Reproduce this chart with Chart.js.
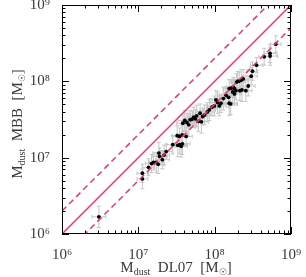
<!DOCTYPE html>
<html lang="en">
<head>
  <meta charset="UTF-8" />
  <title>Dust mass: MBB vs DL07</title>
  <script src="https://cdn.jsdelivr.net/npm/chart.js"></script>
  <style>
    html, body { margin: 0; padding: 0; background: #fff; }
    #wrap { width: 306px; height: 277px; }
  </style>
</head>
<body>
  <div id="wrap"><canvas id="dustChart" width="306" height="277"></canvas></div>

  <script>
    // dust masses [Msun]
    const massDL07 = [
      3.04e6, 1.13e7, 1.13e7, 1.36e7, 1.49e7, 1.58e7, 1.72e7, 1.82e7, 1.86e7, 1.90e7,
      2.06e7, 2.18e7, 2.32e7, 2.83e7, 3.23e7, 3.29e7, 3.49e7, 3.64e7, 3.46e7, 3.75e7,
      4.23e7, 3.78e7, 3.83e7, 4.06e7, 4.32e7, 4.58e7, 4.76e7, 5.06e7, 5.32e7, 5.60e7,
      5.82e7, 6.12e7, 6.44e7, 6.70e7, 6.97e7, 7.41e7, 8.02e7, 8.51e7, 9.23e7, 9.91e7,
      1.04e8, 1.09e8, 1.15e8, 1.21e8, 1.30e8, 1.41e8, 1.52e8, 1.55e8, 1.62e8, 1.55e8,
      1.65e8, 1.75e8, 1.82e8, 1.72e8, 1.82e8, 1.90e8, 1.94e8, 2.01e8, 2.10e8, 2.23e8,
      2.14e8, 2.28e8, 2.37e8, 2.56e8, 2.75e8, 3.01e8, 3.13e8, 3.53e8, 4.45e8, 5.32e8,
      5.32e8, 6.31e8
    ];
    const massMBB = [
      1.68e6, 6.25e6, 5.27e6, 7.48e6, 8.36e6, 8.69e6, 8.69e6, 8.18e6, 1.15e7, 1.04e7,
      9.42e6, 1.08e7, 1.20e7, 1.48e7, 1.94e7, 1.45e7, 1.48e7, 1.41e7, 1.90e7, 1.98e7,
      1.90e7, 1.52e7, 2.83e7, 3.07e7, 2.89e7, 2.69e7, 3.13e7, 3.19e7, 3.39e7, 3.23e7,
      3.53e7, 2.98e7, 3.83e7, 2.95e7, 3.46e7, 3.64e7, 3.98e7, 4.23e7, 4.58e7, 4.76e7,
      5.71e7, 5.27e7, 4.76e7, 5.16e7, 5.94e7, 6.56e7, 6.18e7, 5.16e7, 5.06e7, 8.02e7,
      8.18e7, 8.36e7, 8.02e7, 7.26e7, 6.84e7, 7.55e7, 9.79e7, 1.00e8, 1.01e8, 1.04e8,
      7.55e7, 7.71e7, 1.08e8, 7.55e7, 8.69e7, 1.17e8, 1.36e8, 1.63e8, 2.10e8, 2.32e8,
      2.14e8, 3.07e8
    ];
    // symmetric errors in dex
    const errDL07 = [
      0.09, 0.07, 0.07, 0.08, 0.08, 0.07, 0.09, 0.08, 0.08, 0.10,
      0.09, 0.07, 0.08, 0.08, 0.07, 0.09, 0.10, 0.08, 0.09, 0.07,
      0.08, 0.10, 0.08, 0.09, 0.07, 0.10, 0.08, 0.09, 0.08, 0.07,
      0.09, 0.08, 0.10, 0.09, 0.07, 0.08, 0.09, 0.08, 0.07, 0.09,
      0.08, 0.10, 0.09, 0.08, 0.07, 0.09, 0.08, 0.10, 0.09, 0.08,
      0.07, 0.09, 0.08, 0.10, 0.09, 0.08, 0.07, 0.09, 0.08, 0.09,
      0.10, 0.08, 0.09, 0.08, 0.09, 0.08, 0.07, 0.08, 0.07, 0.08,
      0.10, 0.07
    ];
    const errMBB = [
      0.14, 0.12, 0.13, 0.11, 0.12, 0.10, 0.13, 0.12, 0.14, 0.11,
      0.12, 0.13, 0.10, 0.12, 0.13, 0.15, 0.12, 0.14, 0.11, 0.13,
      0.12, 0.14, 0.11, 0.13, 0.12, 0.15, 0.12, 0.11, 0.13, 0.12,
      0.14, 0.13, 0.12, 0.15, 0.11, 0.13, 0.12, 0.14, 0.11, 0.13,
      0.12, 0.14, 0.13, 0.12, 0.15, 0.11, 0.13, 0.16, 0.14, 0.12,
      0.11, 0.13, 0.12, 0.14, 0.15, 0.12, 0.11, 0.13, 0.12, 0.14,
      0.13, 0.15, 0.12, 0.14, 0.13, 0.11, 0.12, 0.10, 0.11, 0.12,
      0.12, 0.11
    ];

    // reference lines: 1:1 and factor of two either side
    const lineX = [1e6, 1e9];
    const oneToOne = [1e6, 1e9];
    const twiceLine = [2e6, 2e9];
    const halfLine = [5e5, 5e8];

    const decades = [1e6, 1e7, 1e8, 1e9];
    const decadeLabels = ['10\u2076', '10\u2077', '10\u2078', '10\u2079'];

    const pink = '#e8357d';
    const textGrey = '#3a3a3a';
    const serif = '"Liberation Serif", "DejaVu Serif", serif';

    function logTicks(scale) {
      const out = [];
      for (let e = 6; e < 9; e++) {
        for (let m = 1; m < 10; m++) out.push({ value: m * Math.pow(10, e) });
      }
      out.push({ value: 1e9 });
      scale.ticks = out;
    }

    function tickLabel(value) {
      const i = decades.findIndex(d => Math.abs(d - value) / d < 1e-6);
      return i >= 0 ? decadeLabels[i] : '';
    }

    // error bars under the points
    const errorBars = {
      id: 'errorBars',
      beforeDatasetsDraw(chart) {
        const c = chart.ctx, a = chart.chartArea;
        const xs = chart.scales.x, ys = chart.scales.y;
        c.save();
        c.beginPath();
        c.rect(a.left, a.top, a.right - a.left, a.bottom - a.top);
        c.clip();
        c.strokeStyle = '#c6c6c6';
        c.lineWidth = 1;
        const cap = 2;
        massDL07.forEach((mx, i) => {
          const my = massMBB[i];
          const fx = Math.pow(10, errDL07[i]), fy = Math.pow(10, errMBB[i]);
          const px = xs.getPixelForValue(mx), py = ys.getPixelForValue(my);
          const x0 = xs.getPixelForValue(mx / fx), x1 = xs.getPixelForValue(mx * fx);
          const y0 = ys.getPixelForValue(my / fy), y1 = ys.getPixelForValue(my * fy);
          c.beginPath();
          c.moveTo(x0, py); c.lineTo(x1, py);
          c.moveTo(x0, py - cap); c.lineTo(x0, py + cap);
          c.moveTo(x1, py - cap); c.lineTo(x1, py + cap);
          c.moveTo(px, y0); c.lineTo(px, y1);
          c.moveTo(px - cap, y0); c.lineTo(px + cap, y0);
          c.moveTo(px - cap, y1); c.lineTo(px + cap, y1);
          c.stroke();
        });
        c.restore();
      }
    };

    // box with inward ticks on all four sides
    const frame = {
      id: 'frame',
      afterDraw(chart) {
        const c = chart.ctx, a = chart.chartArea;
        const xs = chart.scales.x, ys = chart.scales.y;
        c.save();
        c.strokeStyle = '#000';
        c.lineWidth = 1;
        c.strokeRect(a.left + 0.5, a.top + 0.5, a.right - a.left - 1, a.bottom - a.top - 1);
        c.beginPath();
        xs.ticks.forEach(t => {
          const p = Math.round(xs.getPixelForValue(t.value)) + 0.5;
          const len = tickLabel(t.value) ? 7 : 3.5;
          c.moveTo(p, a.bottom); c.lineTo(p, a.bottom - len);
          c.moveTo(p, a.top); c.lineTo(p, a.top + len);
        });
        ys.ticks.forEach(t => {
          const p = Math.round(ys.getPixelForValue(t.value)) + 0.5;
          const len = tickLabel(t.value) ? 7 : 3.5;
          c.moveTo(a.left, p); c.lineTo(a.left + len, p);
          c.moveTo(a.right, p); c.lineTo(a.right - len, p);
        });
        c.stroke();
        c.restore();
      }
    };

    // axis titles with subscripts
    function drawParts(c, parts, cx, cy) {
      let w = 0;
      parts.forEach(p => { c.font = p.size + 'px ' + serif; p.w = c.measureText(p.t).width; w += p.w; });
      let x = cx - w / 2;
      parts.forEach(p => {
        c.font = p.size + 'px ' + serif;
        c.fillText(p.t, x, cy + (p.dy || 0));
        x += p.w;
      });
    }

    const axisTitles = {
      id: 'axisTitles',
      afterDraw(chart) {
        const c = chart.ctx;
        c.save();
        c.fillStyle = textGrey;
        c.textBaseline = 'alphabetic';
        drawParts(c, [
          { t: 'M', size: 15 }, { t: 'dust', size: 10, dy: 3 },
          { t: '  DL07  [M', size: 15 }, { t: '\u2609', size: 9, dy: 3 }, { t: ']', size: 15 }
        ], 176, 272);
        c.translate(22, 124);
        c.rotate(-Math.PI / 2);
        drawParts(c, [
          { t: 'M', size: 15 }, { t: 'dust', size: 10, dy: 3 },
          { t: '  MBB  [M', size: 15 }, { t: '\u2609', size: 9, dy: 3 }, { t: ']', size: 15 }
        ], 0, 0);
        c.restore();
      }
    };

    const points = massDL07.map((x, i) => ({ x: x, y: massMBB[i] }));
    const refLine = ys => lineX.map((x, i) => ({ x: x, y: ys[i] }));

    const axisCommon = {
      type: 'logarithmic',
      min: 1e6,
      max: 1e9,
      grid: { display: false },
      border: { display: false },
      afterBuildTicks: logTicks,
      ticks: {
        autoSkip: false,
        maxRotation: 0,
        color: textGrey,
        font: { family: serif, size: 15 },
        callback: tickLabel
      }
    };

    new Chart(document.getElementById('dustChart'), {
      type: 'scatter',
      data: {
        datasets: [
          { type: 'line', data: refLine(oneToOne), borderColor: pink, borderWidth: 1.5, pointRadius: 0 },
          { type: 'line', data: refLine(twiceLine), borderColor: pink, borderWidth: 1.5, borderDash: [6, 4], pointRadius: 0 },
          { type: 'line', data: refLine(halfLine), borderColor: pink, borderWidth: 1.5, borderDash: [6, 4], pointRadius: 0 },
          { data: points, backgroundColor: '#000', borderWidth: 0, pointRadius: 1.9 }
        ]
      },
      options: {
        responsive: false,
        animation: false,
        layout: { padding: { left: 0, right: 15, top: 5, bottom: 0 } },
        plugins: { legend: { display: false }, tooltip: { enabled: false } },
        scales: {
          x: Object.assign({}, axisCommon, {
            ticks: Object.assign({}, axisCommon.ticks, { padding: 4 }),
            afterFit(s) { s.height = 43; s.paddingLeft = 0; s.paddingRight = 0; }
          }),
          y: Object.assign({}, axisCommon, {
            ticks: Object.assign({}, axisCommon.ticks, { padding: 4 }),
            afterFit(s) { s.width = 62; s.paddingTop = 0; s.paddingBottom = 0; }
          })
        }
      },
      plugins: [errorBars, frame, axisTitles]
    });
  </script>
</body>
</html>
